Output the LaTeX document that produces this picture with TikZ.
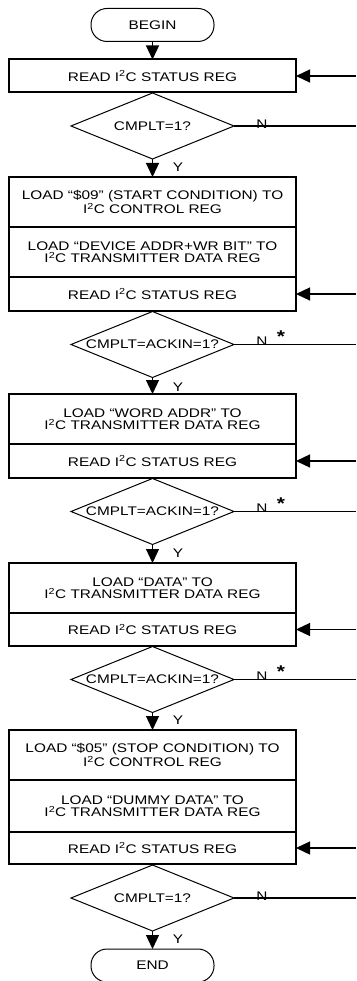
\documentclass[tikz,border=0pt]{standalone}
\usepackage{fontspec}
\setmainfont{Liberation Sans}[FakeStretch=1.23]
\usetikzlibrary{arrows.meta,shapes.geometric}
\newcommand{\ic}{I\textsuperscript{2}C}
\begin{document}
\begin{tikzpicture}[x=1pt,y=-1pt,
  txt/.style={font=\fontsize{12.5}{12.6}\selectfont, align=center},
  proc/.style={draw, line width=2pt, minimum width=287pt, inner sep=0pt, outer sep=0pt, txt},
  term/.style={draw, line width=1pt, rounded corners=16pt, minimum width=123pt, minimum height=33pt, inner sep=0pt, outer sep=0pt, txt},
  dec/.style={draw, diamond, line width=1pt, minimum width=163pt, minimum height=66pt, inner sep=0pt, outer sep=0pt},
  flow/.style={line width=1.3pt, -{Triangle[length=14pt,width=13pt]}},
  plain/.style={line width=1.3pt},
  lab/.style={txt, inner sep=0pt},
  star/.style={font=\fontsize{17}{17}\selectfont\bfseries, inner sep=0pt, anchor=north}
]
\useasboundingbox (0,0) rectangle (356,981);
% terminals
\node[term] (begin) at (152.5,25) {BEGIN};
\node[term] (end) at (152.5,965.5) {END};
% block 1
\node[proc, minimum height=33pt] (r1) at (152.5,76) {READ \ic{} STATUS REG};
\node[dec] (d1) at (152.5,126) {};
\node[lab] at (d1) {CMPLT=1?};
% block 2
\node[proc, minimum height=50pt] (p2a) at (152.5,202) {LOAD “\$09” (START CONDITION) TO\\\ic{} CONTROL REG};
\node[proc, minimum height=50pt] (p2b) at (152.5,252) {LOAD “DEVICE ADDR+WR BIT” TO\\\ic{} TRANSMITTER DATA REG};
\node[proc, minimum height=34pt] (r2) at (152.5,294) {READ \ic{} STATUS REG};
\node[dec] (d2) at (152.5,344.5) {};
\node[lab] at (d2) {CMPLT=ACKIN=1?};
% block 3
\node[proc, minimum height=50pt] (p3a) at (152.5,419) {LOAD “WORD ADDR” TO\\\ic{} TRANSMITTER DATA REG};
\node[proc, minimum height=34pt] (r3) at (152.5,461) {READ \ic{} STATUS REG};
\node[dec] (d3) at (152.5,511.5) {};
\node[lab] at (d3) {CMPLT=ACKIN=1?};
% block 4
\node[proc, minimum height=50pt] (p4a) at (152.5,588) {LOAD “DATA” TO\\\ic{} TRANSMITTER DATA REG};
\node[proc, minimum height=33pt] (r4) at (152.5,629.5) {READ \ic{} STATUS REG};
\node[dec] (d4) at (152.5,679.5) {};
\node[lab] at (d4) {CMPLT=ACKIN=1?};
% block 5
\node[proc, minimum height=50pt] (p5a) at (152.5,755) {LOAD “\$05” (STOP CONDITION) TO\\\ic{} CONTROL REG};
\node[proc, minimum height=52pt] (p5b) at (152.5,806) {LOAD “DUMMY DATA” TO\\\ic{} TRANSMITTER DATA REG};
\node[proc, minimum height=32pt] (r5) at (152.5,848) {READ \ic{} STATUS REG};
\node[dec] (d5) at (152.5,898) {};
\node[lab] at (d5) {CMPLT=1?};
% edge coordinates
\coordinate (e1) at (356,76);
\coordinate (e2) at (356,294);
\coordinate (e3) at (356,461);
\coordinate (e4) at (356,629.5);
\coordinate (e5) at (356,848);
\coordinate (n1) at (356,126);
\coordinate (n2) at (356,344.5);
\coordinate (n3) at (356,511.5);
\coordinate (n4) at (356,679.5);
\coordinate (n5) at (356,898);
% main flow
\draw[flow] (begin) -- (r1);
\draw[flow] (d1) -- (p2a);
\draw[flow] (d2) -- (p3a);
\draw[flow] (d3) -- (p4a);
\draw[flow] (d4) -- (p5a);
\draw[flow] (d5) -- (end);
% return arrows
\draw[flow] (e1) -- (r1);
\draw[flow] (e2) -- (r2);
\draw[flow] (e3) -- (r3);
\draw[flow] (e4) -- (r4);
\draw[flow] (e5) -- (r5);
% N branches
\draw[plain] (d1.east) -- (n1);
\draw[plain] (d2.east) -- (n2);
\draw[plain] (d3.east) -- (n3);
\draw[plain] (d4.east) -- (n4);
\draw[plain] (d5.east) -- (n5);
% labels
\node[lab] at (262,124) {N};
\node[lab] at (262,341) {N};
\node[lab] at (262,508) {N};
\node[lab] at (262,676) {N};
\node[lab] at (262,896) {N};
\node[star] at (281,331) {*};
\node[star] at (281,498) {*};
\node[star] at (281,666) {*};
\node[lab] at (178,167) {Y};
\node[lab] at (178,387) {Y};
\node[lab] at (178,553) {Y};
\node[lab] at (178,720) {Y};
\node[lab] at (178,939) {Y};
\end{tikzpicture}
\end{document}
